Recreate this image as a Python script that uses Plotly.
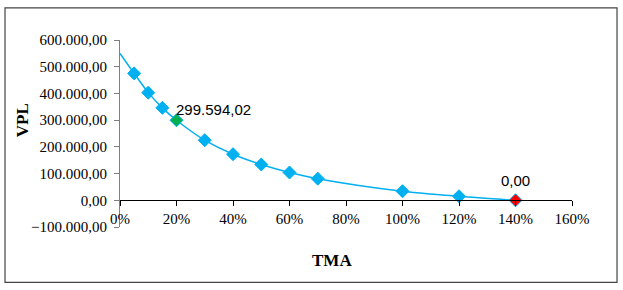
import plotly.graph_objects as go

# Data
tma_line = [0.0, 0.05, 0.10, 0.15, 0.20, 0.30, 0.40, 0.50, 0.60, 0.70, 1.00, 1.20, 1.40]
vpl_line = [550000, 475000, 403000, 346000, 299594.02, 225000, 172500, 134000, 104000, 81000, 34000, 15000, 0]

tma_pts = [0.05, 0.10, 0.15, 0.20, 0.30, 0.40, 0.50, 0.60, 0.70, 1.00, 1.20, 1.40]
vpl_pts = [475000, 403000, 346000, 299594.02, 225000, 172500, 134000, 104000, 81000, 34000, 15000, 0]
pt_colors = ["#00B0F0"] * 3 + ["#00B050"] + ["#00B0F0"] * 7 + ["#FF0000"]

x_ticks = [0, 0.2, 0.4, 0.6, 0.8, 1.0, 1.2, 1.4, 1.6]
y_ticks = [-100000, 0, 100000, 200000, 300000, 400000, 500000, 600000]

serif = "Liberation Serif, Times New Roman, serif"
sans = "Liberation Sans, Arial, sans-serif"

fig = go.Figure()
fig.add_trace(go.Scatter(
    x=tma_line, y=vpl_line, mode="lines",
    line=dict(color="#00B0F0", width=1.5, shape="spline", smoothing=0.8),
    hoverinfo="skip", showlegend=False,
))
fig.add_trace(go.Scatter(
    x=tma_pts, y=vpl_pts, mode="markers",
    marker=dict(symbol="diamond", size=10, color=pt_colors,
                line=dict(color="#00B0F0", width=1)),
    showlegend=False,
))

fig.add_annotation(x=0.20, y=299594.02, text="299.594,02", showarrow=False,
                   xanchor="left", yanchor="middle", xshift=-3, yshift=11,
                   font=dict(family=sans, size=15, color="black"))
fig.add_annotation(x=1.40, y=0, text="0,00", showarrow=False,
                   xanchor="center", yanchor="middle", yshift=20,
                   font=dict(family=sans, size=15, color="black"))

fig.add_annotation(x=-0.2168, y=0.5714, xref="paper", yref="paper", text="<b>VPL</b>",
                   showarrow=False, textangle=-90, xanchor="center", yanchor="middle",
                   font=dict(family=serif, size=17, color="black"))
fig.add_annotation(x=0.469, y=-0.18, xref="paper", yref="paper", text="<b>TMA</b>",
                   showarrow=False, xanchor="center", yanchor="middle",
                   font=dict(family=serif, size=17, color="black"))

fig.add_shape(type="rect", xref="paper", yref="paper",
              x0=-0.2544, x1=1.0996, y0=-0.296, y1=1.1714,
              line=dict(color="#444444", width=1.2))

fig.update_layout(
    width=623, height=290,
    margin=dict(l=120, r=51, t=40, b=63),
    paper_bgcolor="white", plot_bgcolor="white",
    separators=",.",
    xaxis=dict(range=[0, 1.6], tickvals=x_ticks, tickformat=".0%",
               anchor="free", position=1/7, automargin=False,
               showline=True, linecolor="black", linewidth=1,
               ticks="outside", ticklen=5, tickcolor="black",
               showgrid=False, zeroline=False,
               tickfont=dict(family=serif, size=15, color="black")),
    yaxis=dict(range=[-100000, 600000], tickvals=y_ticks, tickformat=",.2f",
               automargin=False, ticklabelstandoff=4,
               showline=True, linecolor="#808080", linewidth=1,
               ticks="outside", ticklen=5, tickcolor="#808080",
               showgrid=False, zeroline=False,
               tickfont=dict(family=serif, size=15, color="black")),
)

fig.write_html("out.html", config={"displayModeBar": False},
               post_script="document.body.style.margin='0';")
